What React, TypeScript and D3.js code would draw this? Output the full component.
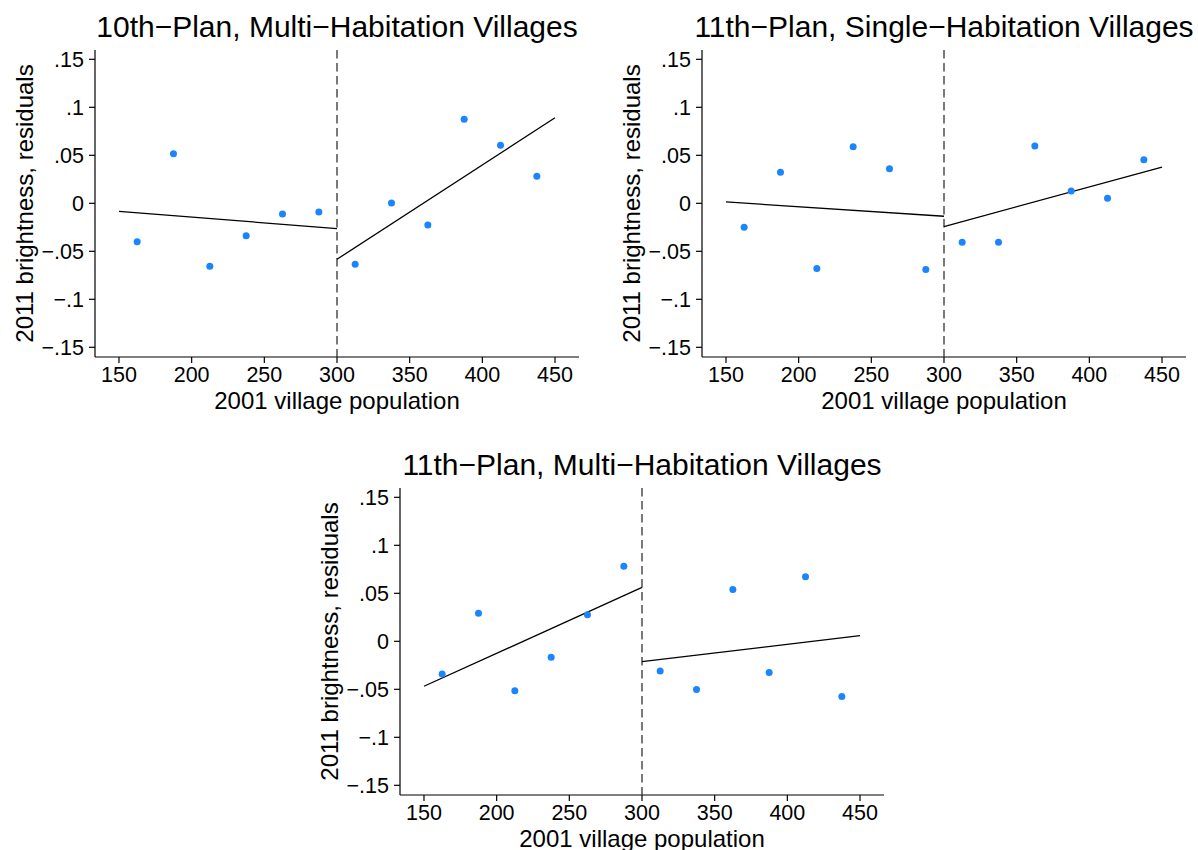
import React from "react";
import * as d3 from "d3";

// bin centers (2001 village population)
const bins = [162.5, 187.5, 212.5, 237.5, 262.5, 287.5, 312.5, 337.5, 362.5, 387.5, 412.5, 437.5];

// binned residuals
const plan10Multi = [-0.040, 0.0517, -0.0656, -0.0337, -0.0111, -0.009, -0.0635, 0.0003, -0.0226, 0.0875, 0.0604, 0.0281];
const plan11Single = [-0.025, 0.0323, -0.068, 0.059, 0.0361, -0.069, -0.0406, -0.0406, 0.0597, 0.0128, 0.0052, 0.0455];
const plan11Multi = [-0.034, 0.0291, -0.0516, -0.0166, 0.0277, 0.0783, -0.0308, -0.0502, 0.054, -0.0326, 0.0672, -0.0575];

// linear fits: [value at 150, value at 300] and [value at 300, value at 450]
const leftFitX = [150, 300];
const rightFitX = [300, 450];
const plan10MultiLeft = [-0.0083, -0.0264];
const plan10MultiRight = [-0.0583, 0.0892];
const plan11SingleLeft = [0.0014, -0.0135];
const plan11SingleRight = [-0.0243, 0.0378];
const plan11MultiLeft = [-0.0468, 0.0561];
const plan11MultiRight = [-0.0211, 0.0059];

const xTicks = [150, 200, 250, 300, 350, 400, 450];
const yTicks = [-0.15, -0.1, -0.05, 0, 0.05, 0.1, 0.15];
const yTickLabels = ["\u2212.15", "\u2212.1", "\u2212.05", "0", ".05", ".1", ".15"];
const cutoff = 300;

const FONT = "'Liberation Sans', Arial, Helvetica, sans-serif";
const W = 484;
const H = 307;

type PanelProps = {
  left: number;
  top: number;
  title: string;
  ys: number[];
  leftFit: number[];
  rightFit: number[];
};

function Panel({ left, top, title, ys, leftFit, rightFit }: PanelProps) {
  const x = d3.scaleLinear().domain([133.5, 466.5]).range([0, W]);
  const y = d3.scaleLinear().domain([-0.1601, 0.1597]).range([H, 0]);
  const line = d3
    .line<[number, number]>()
    .x((d) => x(d[0]))
    .y((d) => y(d[1]));
  const lp: [number, number][] = leftFitX.map((v, i) => [v, leftFit[i]]);
  const rp: [number, number][] = rightFitX.map((v, i) => [v, rightFit[i]]);
  return (
    <g transform={`translate(${left},${top})`} fontFamily={FONT}>
      <text x={W / 2} y={-13} textAnchor="middle" fontSize={30} fill="#000">
        {title}
      </text>
      {/* axes */}
      <line x1={0} x2={0} y1={0} y2={H} stroke="#000" strokeWidth={1.2} />
      <line x1={0} x2={W} y1={H} y2={H} stroke="#000" strokeWidth={1.2} />
      {yTicks.map((t, i) => (
        <g key={"y" + i}>
          <line x1={-6} x2={0} y1={y(t)} y2={y(t)} stroke="#000" strokeWidth={1.2} />
          <text x={-11} y={y(t)} dy="0.36em" textAnchor="end" fontSize={21.5} fill="#000">
            {yTickLabels[i]}
          </text>
        </g>
      ))}
      {xTicks.map((t, i) => (
        <g key={"x" + i}>
          <line x1={x(t)} x2={x(t)} y1={H} y2={H + 6} stroke="#000" strokeWidth={1.2} />
          <text x={x(t)} y={H + 25} textAnchor="middle" fontSize={21.5} fill="#000">
            {t}
          </text>
        </g>
      ))}
      <text
        transform={`translate(-62,${H / 2}) rotate(-90)`}
        textAnchor="middle"
        fontSize={24}
        fill="#000"
      >
        2011 brightness, residuals
      </text>
      <text x={W / 2} y={H + 52} textAnchor="middle" fontSize={24} fill="#000">
        2001 village population
      </text>
      {/* cutoff */}
      <line
        x1={x(cutoff)}
        x2={x(cutoff)}
        y1={0}
        y2={H}
        stroke="#333"
        strokeWidth={1.3}
        strokeDasharray="8.5,4.5"
      />
      {/* fits */}
      <path d={line(lp) || ""} fill="none" stroke="#000" strokeWidth={1.3} />
      <path d={line(rp) || ""} fill="none" stroke="#000" strokeWidth={1.3} />
      {/* points */}
      {bins.map((b, i) => (
        <circle key={"p" + i} cx={x(b)} cy={y(ys[i])} r={3.5} fill="#1a85ff" />
      ))}
    </g>
  );
}

export default function App() {
  return (
    <svg
      width={1198}
      height={850}
      style={{ position: "absolute", left: 0, top: 0, background: "#fff" }}
    >
      <rect width={1198} height={850} fill="#fff" />
      <Panel
        left={95}
        top={50}
        title={"10th\u2212Plan, Multi\u2212Habitation Villages"}
        ys={plan10Multi}
        leftFit={plan10MultiLeft}
        rightFit={plan10MultiRight}
      />
      <Panel
        left={702}
        top={50}
        title={"11th\u2212Plan, Single\u2212Habitation Villages"}
        ys={plan11Single}
        leftFit={plan11SingleLeft}
        rightFit={plan11SingleRight}
      />
      <Panel
        left={400}
        top={488}
        title={"11th\u2212Plan, Multi\u2212Habitation Villages"}
        ys={plan11Multi}
        leftFit={plan11MultiLeft}
        rightFit={plan11MultiRight}
      />
    </svg>
  );
}
